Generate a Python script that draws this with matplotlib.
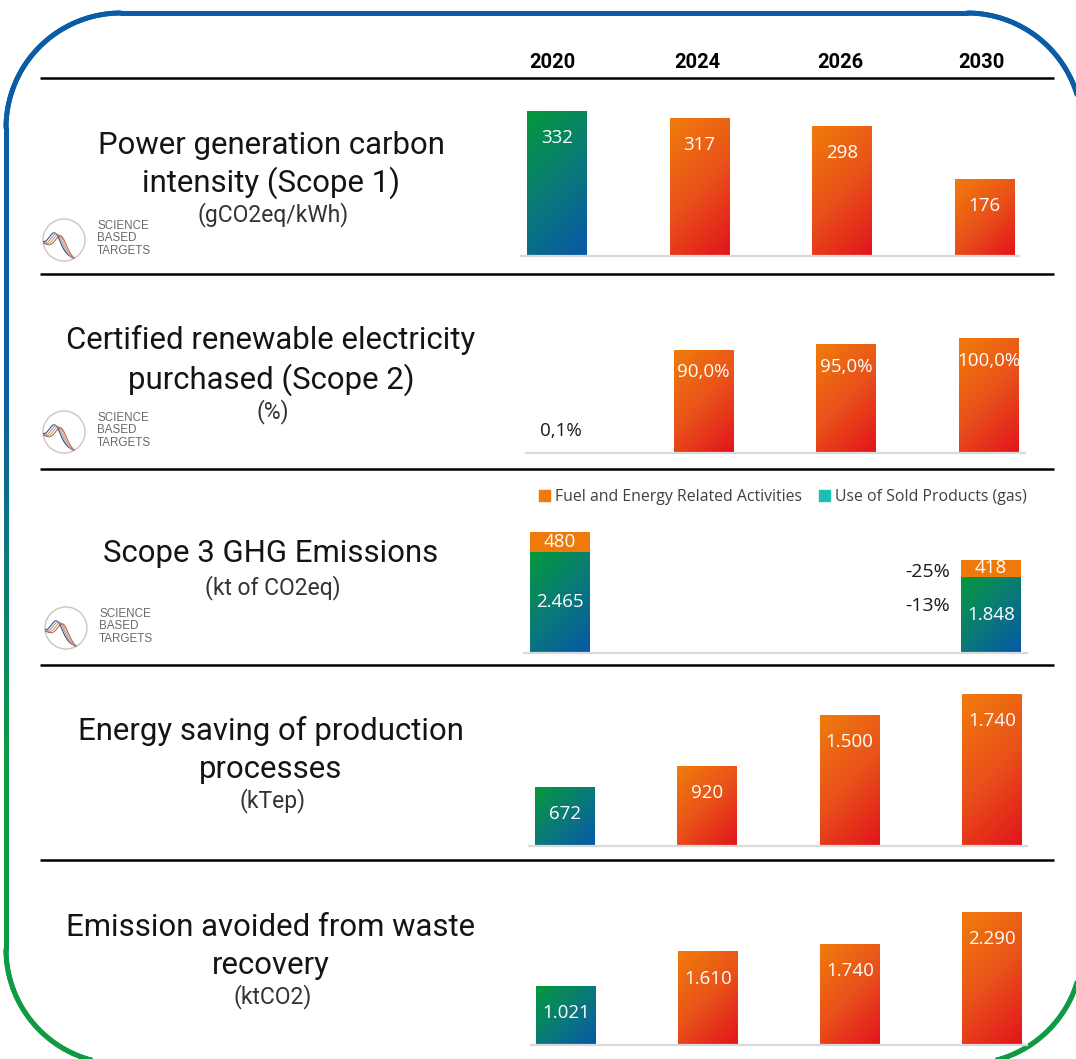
import numpy as np
import matplotlib
matplotlib.use("Agg")
import matplotlib.pyplot as plt
from matplotlib.collections import LineCollection
from matplotlib.colors import LinearSegmentedColormap, to_rgb
from matplotlib.patches import Patch, Circle

W, H = 1076, 1059
DPI = 100

years = ["2020", "2024", "2026", "2030"]

carbon_intensity = [332, 317, 298, 176]          # gCO2eq/kWh
renewable_share = [0.1, 90.0, 95.0, 100.0]       # %
scope3_years = ["2020", "2030"]
scope3_sold = [2465, 1848]                       # use of sold products (gas)
scope3_fuel = [480, 418]                         # fuel and energy related
scope3_change = ["-25%", "-13%"]                 # fuel, sold products vs 2020
energy_saving = [672, 920, 1500, 1740]           # kTep
waste_avoided = [1021, 1610, 1740, 2290]         # ktCO2

titles = [
    ["Power generation carbon", "intensity (Scope 1)"],
    ["Certified renewable electricity", "purchased (Scope 2)"],
    ["Scope 3 GHG Emissions"],
    ["Energy saving of production", "processes"],
    ["Emission avoided from waste", "recovery"],
]
units = ["(gCO2eq/kWh)", "(%)", "(kt of CO2eq)", "(kTep)", "(ktCO2)"]
legend_labels = ["Fuel and Energy Related Activities", "Use of Sold Products (gas)"]

ORANGE = "#ef7a0c"
TEAL = "#1fbfb0"
TITLE_FONT = "Roboto"
LABEL_FONT = "Open Sans"

green_blue = LinearSegmentedColormap.from_list("gb", ["#04993a", "#0a7a78", "#0857a8"])
orange_red = LinearSegmentedColormap.from_list("or", ["#f07c0b", "#e9521a", "#e2141c"])


def thousands(v):
    return f"{v:,.0f}".replace(",", ".")


def percent(v):
    return f"{v:.1f}%".replace(".", ",")


fig = plt.figure(figsize=(W / DPI, H / DPI), dpi=DPI)
fig.patch.set_facecolor("white")

# full-figure axes in pixel units for frame, separators and titles
bg = fig.add_axes([0, 0, 1, 1])
bg.set_xlim(0, W)
bg.set_ylim(H, 0)
bg.axis("off")

# rounded frame, blue at the top fading to green at the bottom
L, R, T, B, rad = 6, 1082, 13, 1064, 115
pts = []
def arc(cx, cy, a0, a1):
    a = np.radians(np.linspace(a0, a1, 90))
    return np.column_stack([cx + rad * np.cos(a), cy + rad * np.sin(a)])
pts.append(np.array([[L + rad, T], [R - rad, T]]))
pts.append(arc(R - rad, T + rad, -90, 0))
pts.append(np.array([[R, T + rad], [R, B - rad]]))
pts.append(arc(R - rad, B - rad, 0, 90))
pts.append(np.array([[R - rad, B], [L + rad, B]]))
pts.append(arc(L + rad, B - rad, 90, 180))
pts.append(np.array([[L, B - rad], [L, T + rad]]))
pts.append(arc(L + rad, T + rad, 180, 270))
path = np.vstack(pts)
dense = []
for p, q in zip(path[:-1], path[1:]):
    n = max(2, int(np.hypot(*(q - p)) / 2))
    dense.append(np.linspace(p, q, n)[:-1])
dense = np.vstack(dense + [path[-1:]])
segs = np.stack([dense[:-1], dense[1:]], axis=1)
ymid = segs[:, :, 1].mean(axis=1)
f = np.clip((ymid - 380) / (760 - 380), 0, 1)[:, None]
blue, green = np.array(to_rgb("#0b5ca7")), np.array(to_rgb("#0f9a44"))
cols = blue * (1 - f) + green * f
bg.add_collection(LineCollection(segs, colors=cols, linewidths=3.6, capstyle="round"))

# header row and separators
for x, yr in zip([552, 697, 840, 981], years):
    bg.text(x, 62, yr, ha="center", va="center", fontsize=14.5, fontweight="bold",
            family=TITLE_FONT, color="black")
bg.hlines([78, 274, 469, 665, 860], 40, 1054, color="black", lw=1.8)

# row titles
title_y = [(145, 183, 215), (340, 380, 412), (553, None, 588), (731, 769, 801), (927, 966, 997)]
for lines, unit, (y1, y2, y3) in zip(titles, units, title_y):
    bg.text(271, y1, lines[0], ha="center", va="center", fontsize=22.4,
            family=TITLE_FONT, color="#141414")
    if len(lines) > 1:
        bg.text(271, y2, lines[1], ha="center", va="center", fontsize=22.4,
                family=TITLE_FONT, color="#141414")
    bg.text(273, y3, unit, ha="center", va="center", fontsize=16.5,
            family=TITLE_FONT, color="#333333")


def sbt_logo(cx, cy):
    ring = Circle((cx, cy), 21, fill=False, ec="#d2c4b4", lw=1.0)
    bg.add_patch(ring)
    x = np.linspace(-21, 21, 80)
    for k, c in enumerate(["#2c3b6c", "#8a96b8", "#d9955d", "#b7583d"]):
        mu = -9 + 2.0 * k
        y = cy + 3 + 0.5 * (x + 21) - 16 * np.exp(-((x - mu) / 7.5) ** 2)
        line, = bg.plot(cx + x, y, color=c, lw=0.7)
        line.set_clip_path(ring)
    for dy, word in zip([-14, -2, 11], ["SCIENCE", "BASED", "TARGETS"]):
        bg.text(cx + 33, cy + dy, word, ha="left", va="center", fontsize=8.4,
                family="Liberation Sans", color="#6a6a6a")


for cx, cy in [(64, 240), (64, 432), (66, 628)]:
    sbt_logo(cx, cy)


def row_axes(left, right, top, base, c0, step, ymax):
    ax = fig.add_axes([left / W, 1 - base / H, (right - left) / W, (base - top) / H])
    ax.set_xlim((left - c0) / step, (right - c0) / step)
    ax.set_ylim(0, ymax)
    ax.set_facecolor("none")
    for s in ["top", "left", "right"]:
        ax.spines[s].set_visible(False)
    ax.spines["bottom"].set_color("#d9d9d9")
    ax.spines["bottom"].set_linewidth(1.6)
    ax.set_xticks([])
    ax.set_yticks([])
    return ax, 60 / step


def gradient_bars(ax, bars, cmap):
    for bar in bars:
        x0, y0 = bar.get_x(), bar.get_y()
        x1, y1 = x0 + bar.get_width(), y0 + bar.get_height()
        (px0, py0), (px1, py1) = ax.transData.transform([(x0, y0), (x1, y1)])
        wpx, hpx = abs(px1 - px0), max(abs(py1 - py0), 1e-6)
        u = np.linspace(0, 1, 64)[None, :]
        v = np.linspace(0, 1, 160)[:, None]
        t = (u * wpx + v * hpx) / (wpx + hpx)
        im = ax.imshow(t, cmap=cmap, vmin=0, vmax=1, extent=(x0, x1, y0, y1),
                       origin="upper", aspect="auto", interpolation="bilinear",
                       zorder=bar.get_zorder() + 0.1)
        im.set_clip_path(bar)


def inside_labels(ax, xs, vals, texts, offset=-19.5):
    for x, v, s in zip(xs, vals, texts):
        ax.annotate(s, (x, v), xytext=(0, offset), textcoords="offset points",
                    ha="center", va="center", color="white", fontsize=13.5,
                    family=LABEL_FONT, zorder=5)


def simple_row(vals, geom):
    ax, bw = row_axes(*geom)
    xs = np.arange(len(vals))
    bars = ax.bar(xs, vals, width=bw, color="none")
    gradient_bars(ax, bars[:1], green_blue)
    gradient_bars(ax, bars[1:], orange_red)
    return ax, xs


# Scope 1
ax1, xs = simple_row(carbon_intensity, (521, 1019, 80, 256, 557, 142.5, 403))
inside_labels(ax1, xs, carbon_intensity, [thousands(v) for v in carbon_intensity])

# Scope 2
ax2, xs = simple_row(renewable_share, (526, 1025, 276, 453, 561, 142.5, 154))
ax2.annotate(percent(renewable_share[0]), (xs[0], renewable_share[0]), xytext=(0, 16),
             textcoords="offset points", ha="center", va="center", color="#1a1a1a",
             fontsize=13.5, family=LABEL_FONT)
inside_labels(ax2, xs[1:], renewable_share[1:], [percent(v) for v in renewable_share[1:]],
              offset=-16.5)

# Scope 3, stacked
ax3, bw = row_axes(524, 1027, 470, 653, 560, 143.7, 4454)
xs3 = np.array([years.index(y) for y in scope3_years])
sold = ax3.bar(xs3, scope3_sold, width=bw, color="none")
gradient_bars(ax3, sold, green_blue)
ax3.bar(xs3, scope3_fuel, bottom=scope3_sold, width=bw, color=ORANGE, zorder=2)
for x, s, fu in zip(xs3, scope3_sold, scope3_fuel):
    ax3.text(x, s / 2, thousands(s), ha="center", va="center", color="white",
             fontsize=13.5, family=LABEL_FONT, zorder=5)
    ax3.text(x, s + fu / 2, thousands(fu), ha="center", va="center", color="white",
             fontsize=13.5, family=LABEL_FONT, zorder=5)
x_last = xs3[-1] - bw / 2
ax3.annotate(scope3_change[0], (x_last, scope3_sold[-1] + scope3_fuel[-1] / 2),
             xytext=(-8, -2.5), textcoords="offset points", ha="right", va="center",
             fontsize=14, family=LABEL_FONT, color="#1a1a1a")
ax3.annotate(scope3_change[1], (x_last, scope3_sold[-1] / 2), xytext=(-8, 6.5),
             textcoords="offset points", ha="right", va="center",
             fontsize=14, family=LABEL_FONT, color="#1a1a1a")
ax3.legend(handles=[Patch(color=ORANGE), Patch(color=TEAL)], labels=legend_labels,
           loc="center", bbox_to_anchor=(783 / W, 1 - 497 / H),
           bbox_transform=fig.transFigure, ncol=2, frameon=False,
           handlelength=0.7, handleheight=0.7, handletextpad=0.3, columnspacing=1.1,
           prop={"family": LABEL_FONT, "size": 11.4}, labelcolor="#404040")

# Energy saving
ax4, xs = simple_row(energy_saving, (529, 1027, 666, 846, 565, 142.3, 2060))
inside_labels(ax4, xs, energy_saving, [thousands(v) for v in energy_saving])

# Waste recovery
ax5, xs = simple_row(waste_avoided, (531, 1027, 862, 1045, 566, 142.0, 3151))
inside_labels(ax5, xs, waste_avoided, [thousands(v) for v in waste_avoided])

fig.savefig("out.png", dpi=DPI, facecolor="white")
